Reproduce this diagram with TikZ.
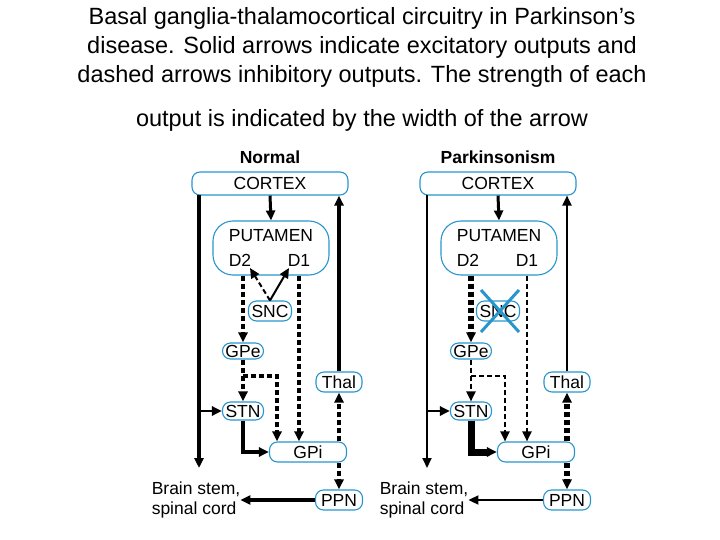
\documentclass[tikz,border=0pt]{standalone}
\usepackage{fontspec}
\setmainfont{Liberation Sans}
\usetikzlibrary{arrows.meta,calc}
\definecolor{bx}{RGB}{40,150,205}
\tikzset{
 box/.style={draw=bx,line width=1.1pt,rounded corners=8pt,inner sep=1pt,font=\fontsize{17.5}{17.5}\selectfont},
 lb/.style={font=\fontsize{17.5}{17.5}\selectfont},
 ar/.style={-{Triangle[length=10pt,width=9pt]},line join=miter},
 ds/.style={dash pattern=on 5pt off 3pt},
}
\newcommand\panel[8]{%
\begin{scope}[xshift=#1,name prefix=#2-]
\node[font=\bfseries\fontsize{17.5}{17.5}\selectfont] (title) at (270,157) {#3};
\node[box,minimum width=156pt,minimum height=23pt] (CX) at (270,183.5) {CORTEX};
\node[box,minimum width=116pt,minimum height=54pt,rounded corners=20pt] (PU) at (271,248) {};
\node[lb] (PUt) at (271,236) {PUTAMEN};
\node[lb] (D2) at (240,260) {D2};
\node[lb] (D1) at (299,260) {D1};
\node[box,minimum width=43pt,minimum height=20pt] (SNC) at (270,311) {SNC};
\node[box,minimum width=41pt,minimum height=16pt] (GPe) at (243,351) {GPe};
\node[box,minimum width=41pt,minimum height=18pt] (STN) at (243,411) {STN};
\node[box,minimum width=77pt,minimum height=20pt] (GPi) at (308,452) {GPi};
\node[box,minimum width=46pt,minimum height=20pt] (Thal) at (339,382) {Thal};
\node[box,minimum width=47pt,minimum height=20pt] (PPN) at (339,500) {PPN};
\node[align=left,font=\fontsize{17.5}{20}\selectfont,inner sep=0pt] (BS) at (196,500) {Brain stem,\\spinal cord};
\coordinate (Lt) at (199,468);
\coordinate (Ls) at (199,195.5);
\coordinate (Lm) at (199,411);
\coordinate (k1) at (243,376);
\coordinate (k2) at (277,376);
\coordinate (k3) at (243,452);
\draw[ar,line width=3pt] (CX.south) -- (PU.north);
\draw[ar,line width=#8pt] (Ls) -- (Lt);
\draw[ar,line width=2.5pt] (Lm) -- (STN.west);
\draw[ar,line width=#8pt] (Thal.north) -- (Thal.north |- CX.south);
\draw[ar,line width=#8pt] (PPN.west) -- (BS.east);
\draw[ar,ds,line width=#4pt] (PU.south -| GPe) -- (GPe.north);
\draw[ar,ds,line width=#5pt] (PU.south -| D1) -- (GPi.north -| D1);
\draw[ar,ds,line width=#6pt] (GPe.south) -- (STN.north);
\draw[ar,ds,line width=#6pt] (k1) -- (k2) -- (GPi.north -| k2);
\draw[ar,line width=#7pt] (STN.south) -- (k3) -- (GPi.west);
\end{scope}}
\begin{document}
\begin{tikzpicture}[x=1pt,y=-1pt]
\useasboundingbox (0,0) rectangle (720,540);
\node[align=center,font=\fontsize{23.5}{29}\selectfont] (T) at (362,47) {Basal ganglia-thalamocortical circuitry in Parkinson's\\disease. Solid arrows indicate excitatory outputs and\\dashed arrows inhibitory outputs. The strength of each};
\node[font=\fontsize{23.5}{23}\selectfont] (T2) at (362,120) {output is indicated by the width of the arrow};
\panel{0}{L}{Normal}{4}{4}{3.5}{4}{3.5}
\draw[ar,ds,line width=2pt] (L-SNC.north) -- (250,268);
\draw[ar,line width=2pt] (L-SNC.north) -- (289,268);
\draw[ar,ds,line width=4pt] (L-GPi.north -| L-Thal) -- (L-Thal.south);
\draw[ar,ds,line width=4pt] (L-GPi.south -| L-Thal) -- (L-PPN.north);
\panel{228}{R}{Parkinsonism}{6}{2}{2}{7}{2}
\draw[ar,ds,line width=6.5pt] (R-GPi.north -| R-Thal) -- (R-Thal.south);
\draw[ar,ds,line width=6.5pt] (R-GPi.south -| R-Thal) -- (R-PPN.north);
\draw[bx,line width=3pt] (481,290) -- (519,332) (481,332) -- (519,290);
\end{tikzpicture}
\end{document}
